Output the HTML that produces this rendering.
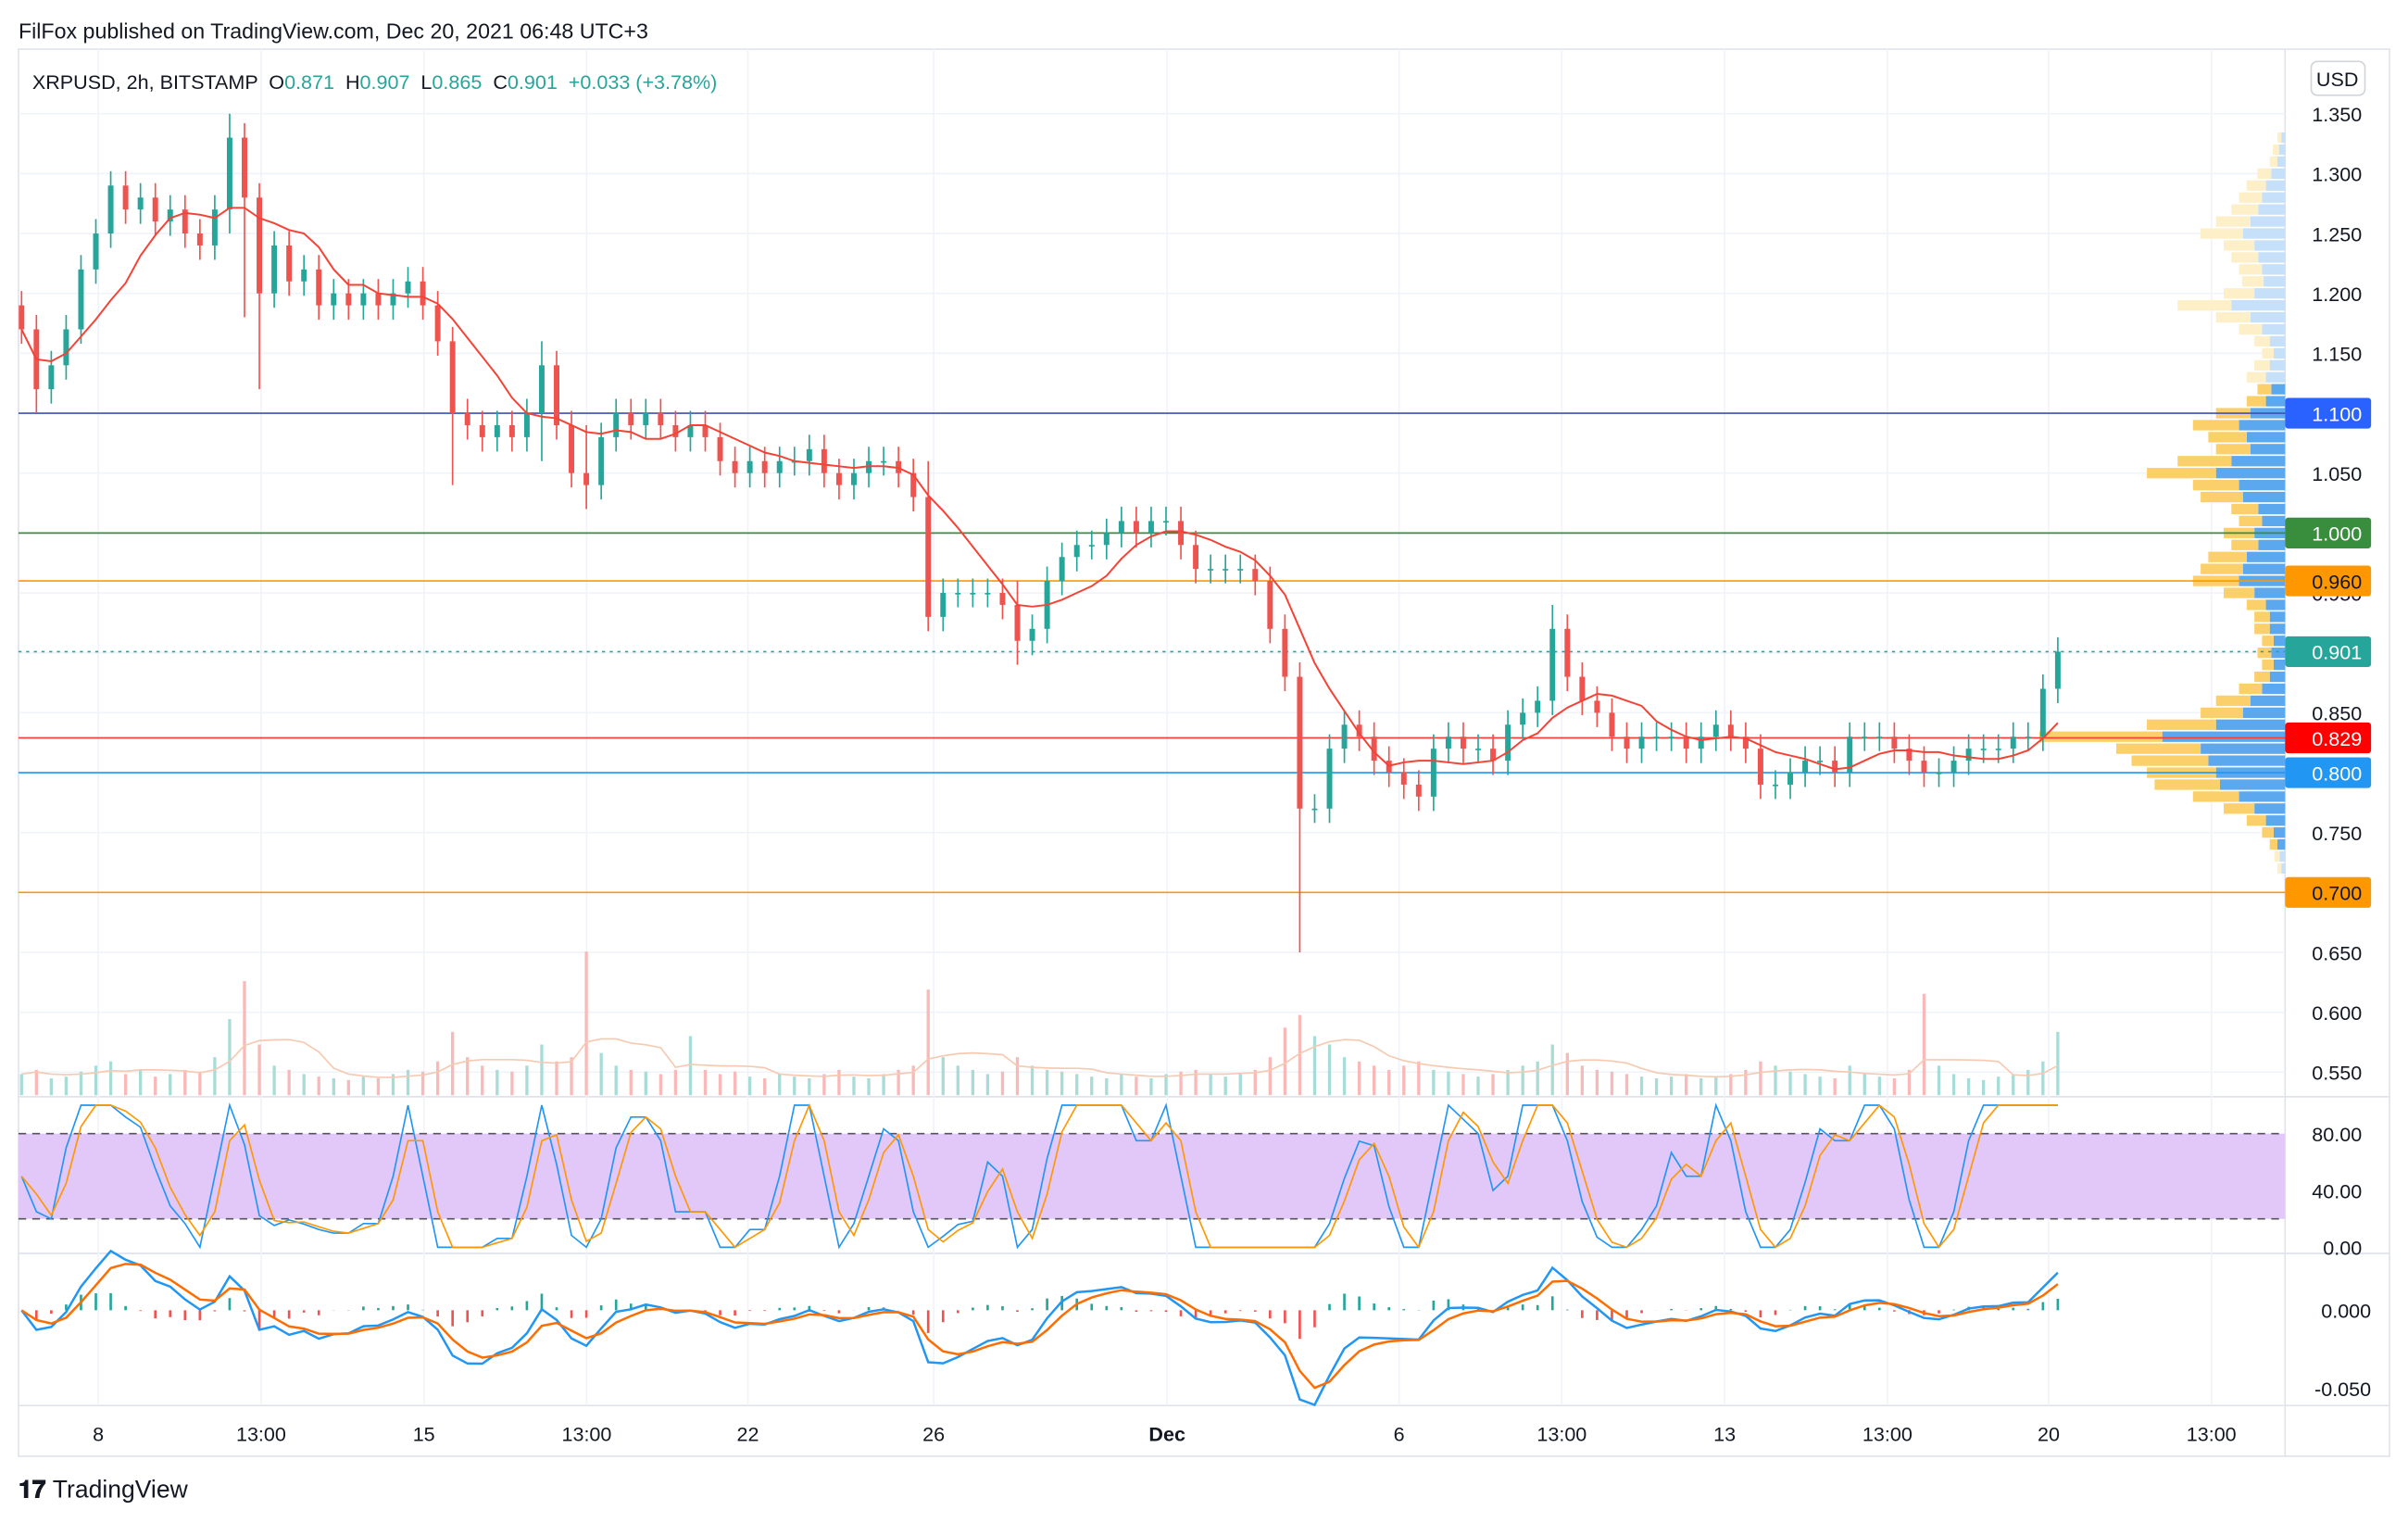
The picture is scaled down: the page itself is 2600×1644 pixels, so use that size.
<!DOCTYPE html>
<html><head><meta charset="utf-8">
<style>
html,body{margin:0;padding:0;background:#fff;}
svg{display:block;font-family:"Liberation Sans",sans-serif;}
</style></head>
<body>
<svg id="chart" width="2600" height="1644" viewBox="0 0 1568 991.5" xmlns="http://www.w3.org/2000/svg">
<rect x="0" y="0" width="1568" height="991.5" fill="#fff"/>
<text x="12" y="25" font-size="14" fill="#131722">FilFox published on TradingView.com, Dec 20, 2021 06:48 UTC+3</text>
<rect x="12" y="32" width="1544" height="916" fill="none" stroke="#e0e3eb" stroke-width="1"/>
<line x1="1488" y1="32" x2="1488" y2="948" stroke="#e0e3eb"/>
<line x1="12" y1="714" x2="1556" y2="714" stroke="#e0e3eb"/>
<line x1="12" y1="816" x2="1556" y2="816" stroke="#e0e3eb"/>
<line x1="12" y1="915" x2="1556" y2="915" stroke="#e0e3eb"/>
<g id="grid"></g>
<g id="vprofile"></g>
<g id="volume"></g>
<g id="hlines"></g>
<g id="candles"></g>
<g id="overlay"></g>
<g id="stoch"></g>
<g id="macd"></g>
<g id="axes"></g>
<text x="21" y="58" font-size="13" fill="#131722" xml:space="preserve">XRPUSD, 2h, BITSTAMP  O<tspan fill="#26a69a">0.871</tspan>  H<tspan fill="#26a69a">0.907</tspan>  L<tspan fill="#26a69a">0.865</tspan>  C<tspan fill="#26a69a">0.901</tspan>  <tspan fill="#26a69a">+0.033 (+3.78%)</tspan></text>
<rect x="1505" y="40" width="35" height="22" rx="4" fill="#fff" stroke="#d1d4dc"/>
<text x="1522" y="56" font-size="13" text-anchor="middle" fill="#131722">USD</text>
<text x="12" y="975" font-size="16" fill="#131722" font-weight="bold">𝟏𝟕 <tspan font-weight="normal">TradingView</tspan></text>
</svg>
<script>
const closes=[1.17,1.12,1.14,1.17,1.22,1.25,1.29,1.27,1.28,1.26,1.27,1.25,1.24,1.27,1.33,1.28,1.20,1.24,1.21,1.22,1.19,1.20,1.19,1.20,1.19,1.20,1.21,1.19,1.16,1.10,1.09,1.08,1.09,1.08,1.10,1.14,1.09,1.05,1.04,1.08,1.10,1.09,1.10,1.09,1.08,1.09,1.08,1.06,1.05,1.06,1.05,1.06,1.06,1.07,1.05,1.04,1.05,1.06,1.06,1.05,1.03,0.93,0.95,0.95,0.95,0.95,0.94,0.91,0.92,0.96,0.98,0.99,0.99,1.00,1.01,1.00,1.01,1.01,0.99,0.97,0.97,0.97,0.97,0.96,0.92,0.88,0.77,0.77,0.82,0.84,0.83,0.81,0.80,0.79,0.78,0.82,0.83,0.82,0.82,0.81,0.84,0.85,0.86,0.92,0.88,0.86,0.85,0.83,0.82,0.83,0.83,0.83,0.82,0.83,0.84,0.83,0.82,0.79,0.79,0.80,0.81,0.81,0.80,0.83,0.83,0.83,0.82,0.81,0.80,0.80,0.81,0.82,0.82,0.82,0.83,0.83,0.87,0.901];
const volumes=[25,30,20,22,28,35,40,25,30,22,25,30,28,45,90,135,60,35,30,25,22,20,18,22,20,25,30,28,40,75,45,35,30,28,35,60,40,45,170,50,35,30,28,25,30,70,30,25,28,22,20,25,22,20,25,30,22,20,25,30,35,125,45,35,30,25,28,45,35,30,28,25,22,20,25,22,20,25,28,30,25,22,25,30,45,80,95,70,60,45,40,35,30,35,40,30,28,25,22,25,30,35,40,60,50,35,30,28,25,22,20,22,25,20,22,25,30,40,35,28,25,22,20,35,25,22,20,30,120,35,25,20,18,22,25,30,40,75];
const wickSpikeIdx=[1,14,15,16,29,35,38,61,67,86,103];
const wickSpikeLow=[1.10,1.25,1.18,1.12,1.04,1.06,1.02,0.92,0.89,0.65,0.86];
const wickSpikeHigh=[1.18,1.35,1.34,1.25,1.16,1.16,1.09,1.06,0.96,0.88,0.94];
const profile=[5,8,10,18,25,30,35,45,55,40,35,30,28,40,70,45,30,20,15,20,25,18,25,45,60,50,45,70,90,60,55,35,30,40,35,50,55,60,40,25,20,20,15,18,15,20,30,45,55,90,160,110,100,90,85,60,40,25,15,10,7,5];
const priceTicks=[1.35,1.30,1.25,1.20,1.15,1.10,1.05,1.00,0.95,0.90,0.85,0.80,0.75,0.70,0.65,0.60,0.55];
const timeLabels=["8","13:00","15","13:00","22","26","Dec","6","13:00","13","13:00","20","13:00"];
const timePos=[64,170,276,382,487,608,760,911,1017,1123,1229,1334,1440];
const hLevels=[1.10,1.00,0.96,0.901,0.829,0.80,0.70];
const hColors=["#3f51b5","#388e3c","#ff9800","#26a69a","#f44336","#2196f3","#ff9800"];
const hBadge=["#2962ff","#388e3c","#ff9800","#26a69a","#ff0000","#2196f3","#ff9800"];

const NS="http://www.w3.org/2000/svg";
function mk(tag,attrs,parent){const e=document.createElementNS(NS,tag);for(const k in attrs)e.setAttribute(k,attrs[k]);parent.appendChild(e);return e;}
const X0=14,X1=1340,N=closes.length;
const xs=i=>X0+i*(X1-X0)/(N-1);
const yp=p=>74+(1.35-p)*780;
const ys=v=>812-v*0.925;
const ym=v=>853-v*1020;
const G=id=>document.getElementById(id);

const grid=G('grid');
priceTicks.forEach(p=>{const l=mk('line',{x1:12,x2:1488,y1:yp(p),y2:yp(p),stroke:'#f0f3fa'},grid);

});
timePos.forEach(x=>{const l=mk('line',{x1:x,x2:x,y1:32,y2:915,stroke:'#f0f3fa'},grid);

});

const vp=G('vprofile');
profile.forEach((len,i)=>{const p=1.33-i*0.01;const y=yp(p)-3.4;const inVA=p<=1.13&&p>=0.74;
const blue=len*0.5;
const b=mk('rect',{x:1488-blue,y:y,width:blue,height:6.8,fill:inVA?'#5ba8ee':'#c5e0f8'},vp);


const o=mk('rect',{x:1488-len,y:y,width:len-blue,height:6.8,fill:inVA?'#fbd06a':'#fdefc8'},vp);

});

const vg=G('volume');
const vma=[];
volumes.forEach((v,i)=>{const up=i==0||closes[i]>=closes[i-1];
const r=mk('rect',{x:xs(i)-1,y:713-v*0.55,width:2,height:v*0.55,fill:up?'#a8dcd7':'#f8b9b8'},vg);


let s=0,c=0;for(let k=Math.max(0,i-5);k<=i;k++){s+=volumes[k];c++;}vma.push(s/c);});
const vl=mk('polyline',{points:vma.map((v,i)=>xs(i)+','+(713-v*0.55)).join(' '),fill:'none',stroke:'#f7c9b0','stroke-width':1},vg);



const hg=G('hlines'),ax=G('axes');
hLevels.forEach((p,i)=>{const dotted=p===0.901;
const l=mk('line',{x1:12,x2:1488,y1:yp(p),y2:yp(p),stroke:hColors[i],'stroke-width':1,'stroke-dasharray':dotted?'2,3':'none'},hg);

});

const cg=G('candles');
const highs=[],lows=[];
closes.forEach((c,i)=>{const o=i==0?c+0.02:closes[i-1];const up=c>=o;const col=up?'#26a69a':'#ef5350';
let h=Math.max(o,c)+0.012,l=Math.min(o,c)-0.012;
const si=wickSpikeIdx.indexOf(i);if(si>=0){h=Math.max(h,wickSpikeHigh[si]);l=Math.min(l,wickSpikeLow[si]);}
highs.push(h);lows.push(l);
const w=mk('line',{x1:xs(i),x2:xs(i),y1:yp(h),y2:yp(l),stroke:col,'stroke-width':1},cg);


const b=mk('rect',{x:xs(i)-1.8,y:yp(Math.max(o,c)),width:3.6,height:Math.max(1,Math.abs(yp(o)-yp(c))),fill:col},cg);

});

const og=G('overlay');
const ma=closes.map((c,i)=>{let s=0,n=0;for(let k=Math.max(0,i-6);k<=i;k++){s+=closes[k];n++;}return s/n;});
const mal=mk('polyline',{points:ma.map((v,i)=>xs(i)+','+yp(v)).join(' '),fill:'none',stroke:'#f44336','stroke-width':1.2},og);



const sg=G('stoch');
const band=mk('rect',{x:12,y:ys(80),width:1476,height:ys(20)-ys(80),fill:'#e1c8f8'},sg);


[80,20].forEach(v=>{const l=mk('line',{x1:12,x2:1488,y1:ys(v),y2:ys(v),stroke:'#555','stroke-dasharray':'5,4'},sg);

});
const rawK=closes.map((c,i)=>{let hh=-1e9,ll=1e9;for(let k=Math.max(0,i-3);k<=i;k++){hh=Math.max(hh,Math.max(closes[k],i?closes[k-1]||closes[k]:closes[k]));ll=Math.min(ll,Math.min(closes[k],k?closes[k-1]:closes[k]));}return hh>ll?(c-ll)/(hh-ll)*100:50;});
const sm=(a,n)=>a.map((v,i)=>{let s=0,c=0;for(let k=Math.max(0,i-n+1);k<=i;k++){s+=a[k];c++;}return s/c;});
const K=sm(rawK,2),D=sm(K,2);
const kl=mk('polyline',{points:K.map((v,i)=>xs(i)+','+ys(v)).join(' '),fill:'none',stroke:'#2196f3','stroke-width':1},sg);


const dl=mk('polyline',{points:D.map((v,i)=>xs(i)+','+ys(v)).join(' '),fill:'none',stroke:'#ff9800','stroke-width':1},sg);



const mg=G('macd');
const ema=(a,n)=>{const k=2/(n+1);const r=[];a.forEach((v,i)=>r.push(i?v*k+r[i-1]*(1-k):v));return r;};
const e1=ema(closes,3),e2=ema(closes,7);
const macd=e1.map((v,i)=>v-e2[i]);const sig=ema(macd,3);
macd.forEach((v,i)=>{const h=v-sig[i];
const r=mk('rect',{x:xs(i)-0.8,y:Math.min(ym(0),ym(h)),width:1.6,height:Math.abs(ym(h)-ym(0)),fill:h>=0?'#26a69a':'#ef5350'},mg);

});
const ml=mk('polyline',{points:macd.map((v,i)=>xs(i)+','+ym(v)).join(' '),fill:'none',stroke:'#2196f3','stroke-width':1.5},mg);


const sl=mk('polyline',{points:sig.map((v,i)=>xs(i)+','+ym(v)).join(' '),fill:'none',stroke:'#ff6d00','stroke-width':1.5},mg);



priceTicks.forEach(p=>{const t=mk('text',{x:1538,y:yp(p)+5,'font-size':13,'text-anchor':'end',fill:'#131722'},ax);t.textContent=p.toFixed(3);

});
hLevels.forEach((p,i)=>{const r=mk('rect',{x:1488,y:yp(p)-10,width:56,height:20,rx:2,fill:hBadge[i]},ax);


const t=mk('text',{x:1538,y:yp(p)+5,'font-size':13,'text-anchor':'end',fill:(i==2||i==6)?'#131722':'#fff'},ax);t.textContent=p.toFixed(3);

});
[80,40,0].forEach(v=>{const t=mk('text',{x:1538,y:ys(v)+5,'font-size':13,'text-anchor':'end',fill:'#131722'},ax);t.textContent=v.toFixed(2);

});
[0,-0.05].forEach(v=>{const t=mk('text',{x:1544,y:ym(v)+5,'font-size':13,'text-anchor':'end',fill:'#131722'},ax);t.textContent=v.toFixed(3);

});
timeLabels.forEach((s,i)=>{const t=mk('text',{x:timePos[i],y:938,'font-size':13,'text-anchor':'middle',fill:'#131722','font-weight':s==='Dec'?'bold':'normal'},ax);t.textContent=s;

});
</script>
</body></html>
